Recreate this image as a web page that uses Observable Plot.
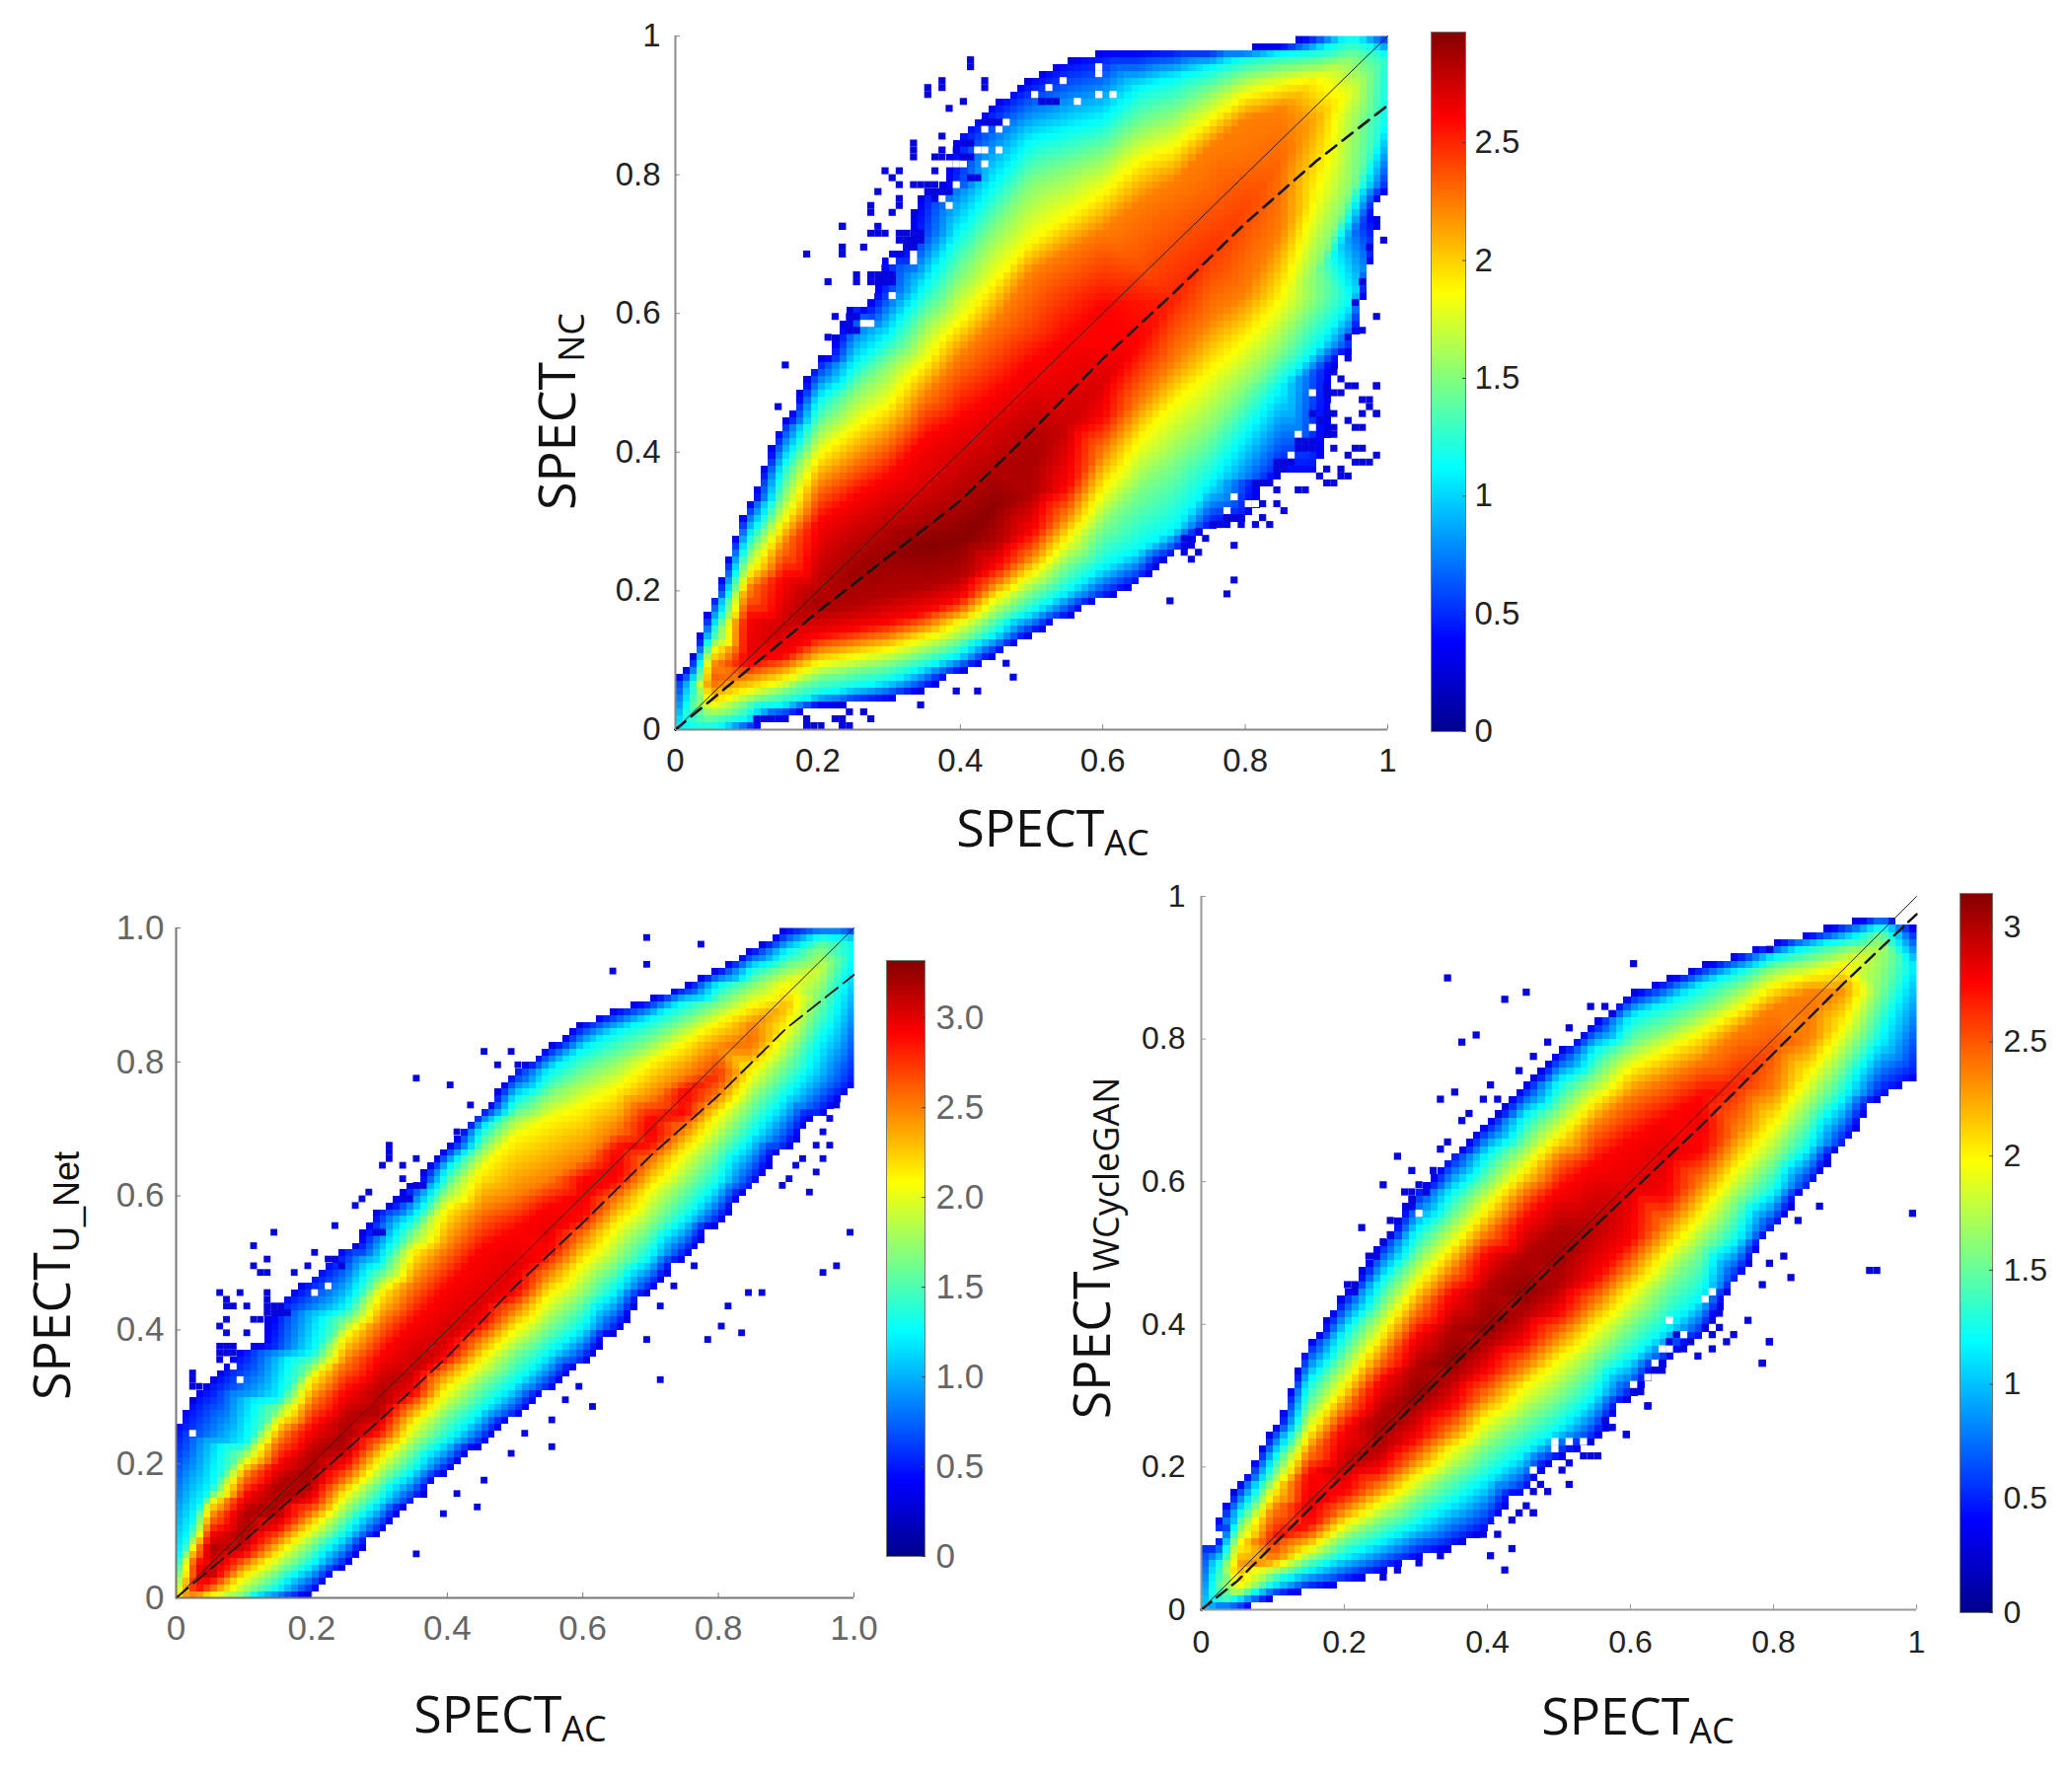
<!DOCTYPE html>
<html><head><meta charset="utf-8">
<script src="https://cdn.jsdelivr.net/npm/d3@7"></script>
<script src="https://cdn.jsdelivr.net/npm/@observablehq/plot@0.6"></script>
<style>
html,body{margin:0;padding:0;background:#fff}
#root{position:relative;width:2100px;height:1798px;overflow:hidden;background:#fff}
#root svg{position:absolute;overflow:visible;background:transparent}
.lab{position:absolute;font-family:"Open Sans",sans-serif;font-size:52px;color:#111;white-space:nowrap;line-height:1}
.lab sub{font-size:36px;vertical-align:baseline;position:relative;top:9px}
.arial sub{font-family:"Liberation Sans",sans-serif}
</style></head><body><div id="root"></div>
<script>
const _ = null;
// Density reads: for each column x, the y where the density crosses each jet colour.
// Order inside rows: outer edge, cyan, green, yellow, orange, red, dark red.
const levelStops = [.13,.375,.5,.625,.75,.875,.95];

// --- SPECT_NC panel
const ncX = [0,.02,.05,.1,.15,.2,.25,.3,.35,.4,.45,.5,.55,.6,.65,.7,.75,.8,.85,.9,.95,1];
const ncRidge = [0,.03,.07,.11,.15,.19,.225,.25,.265,.275,.325,.38,.44,.5,.555,.62,.69,.75,.82,.88,.92,.97];
const ncPeak = [1.0,1.3,2.35,2.65,2.75,2.85,2.88,2.9,2.95,2.95,2.92,2.85,2.75,2.7,2.6,2.5,2.45,2.4,2.3,2.1,1.75,1.2];
const ncLow = [
 [_,_,_,_,_,_,_],[_,0,_,_,_,_,_],[_,0,.02,.035,.06,_,_],[0,.015,.04,.055,.075,.095,_],
 [.02,.035,.055,.07,.09,.105,_],[.035,.05,.075,.095,.115,.135,.17],[.04,.06,.085,.105,.125,.145,.18],
 [.045,.07,.095,.115,.135,.155,.195],[.06,.09,.11,.132,.15,.17,.205],[.085,.108,.13,.155,.17,.19,.22],
 [.11,.138,.165,.19,.21,.235,.27],[.14,.17,.2,.225,.25,.285,.34],[.165,.2,.24,.275,.31,.35,_],
 [.19,.235,.295,.345,.4,.45,_],[.215,.26,.345,.415,.47,_,_],[.255,.29,.385,.47,.53,_,_],
 [.295,.355,.43,.515,.59,_,_],[.31,.425,.49,.56,.63,_,_],[.37,.495,.545,.62,.72,_,_],
 [.375,.55,.66,.77,_,_,_],[.55,.62,.78,_,_,_,_],[.78,.88,_,_,_,_,_]];
const ncHigh = [
 [.07,_,_,_,_,_,_],[.09,.06,_,_,_,_,_],[.18,.14,.125,.11,.09,_,_],[.32,.275,.25,.225,.2,.16,_],
 [.44,.38,.335,.30,.265,.22,_],[.53,.475,.435,.395,.35,.30,.2],[.61,.525,.485,.435,.385,.335,.26],
 [.686,.57,.53,.47,.42,.365,.29],[.77,.64,.59,.53,.48,.42,.31],[.855,.72,.655,.59,.54,.45,.335],
 [.9,.79,.725,.65,.59,.485,.375],[.935,.85,.79,.705,.66,.53,.42],[.96,.865,.81,.74,.69,.565,_],
 [.975,.88,.83,.775,.72,.61,_],[.975,.925,.87,.82,.76,_,_],[.98,.94,.89,.84,.79,_,_],
 [.98,.955,.92,.88,.84,_,_],[.98,.97,.945,.915,.88,_,_],[.985,.975,.955,.93,.895,_,_],
 [1,.98,.96,.94,_,_,_],[_,1,.97,_,_,_,_],[1,_,_,_,_,_,_]];
const ncStray = [[.42,.96],[.36,.92],[.38,.93],[.44,.93],[.417,.961],[.377,.931],[.357,.922],[.437,.931],[.407,.909],[.388,.9],[.338,.85],[.338,.84],[.338,.83],[.378,.854],[.378,.84],[.378,.825],[.368,.83],[.298,.81],[.318,.81],[.308,.8],[.318,.79],[.288,.78],[.278,.76],[.278,.75],[.317,.77],[.317,.76],[.31,.75],[.237,.73],[.288,.73],[.278,.72],[.288,.72],[.3,.72],[.237,.7],[.237,.69],[.267,.7],[.22,.65],[.257,.66],[.257,.65],[.228,.6],[.22,.57],[.34,.79],[.35,.79],[.36,.79],[.37,.79],[.368,.81],[.368,.77],[.405,.85],[.415,.85],[.396,.838],[.19,.69],[.24,.73],[.16,.53],[.15,.47],
 [.315,.72],[.325,.72],[.335,.72],[.345,.72],[.315,.71],[.325,.71],[.335,.71],[.345,.71],[.28,.66],[.29,.66],[.3,.66],[.31,.66],[.28,.65],[.29,.65],[.3,.65],[.31,.65],[.245,.6],[.255,.6],[.245,.59],[.245,.58],[.255,.58],[.435,.88],[.445,.88],[.455,.88],[.515,.91],[.525,.91],[.535,.91],[.36,.78],[.37,.78],[.38,.78],[.39,.78],[.42,.8],[.43,.8],[.41,.83],[.42,.83],[.33,.7],[.34,.7],
 [.947,.57],[.947,.54],[.938,.51],[.986,.5],[.956,.5],[.944,.5],[.912,.487],[.92,.487],[.93,.487],[.94,.487],[.963,.48],[.977,.48],[.977,.47],[.967,.46],[.987,.46],[.917,.46],[.926,.46],[.947,.45],[.926,.44],[.926,.43],[.926,.41],[.956,.435],[.967,.435],[.947,.40],[.957,.41],[.967,.41],[.987,.40],[.956,.39],[.967,.39],[.977,.39],[.917,.38],[.935,.38],[.947,.37],[.938,.37],[.908,.37],[.917,.36],[.926,.36],[.882,.35],[.875,.35],[.848,.35],[.827,.33],[.848,.33],[.858,.32],[.797,.30],[.817,.30],[.838,.30],[.827,.31],[.737,.29],[.718,.28],[.749,.28],[.728,.27],[.786,.27],[.718,.26],[.737,.26],[.727,.25],[.786,.22],[.777,.2],[.7,.19],[.48,.08],[.47,.1],[.43,.06],[.395,.06],[.35,.04],[.99,.5],[.99,.46],[.99,.6],[.97,.65],[.98,.7],[.96,.62],[1,.71],[.97,.58],
 [.88,.42],[.89,.42],[.9,.42],[.88,.41],[.89,.41],[.9,.41],[.85,.39],[.86,.39],[.87,.39],[.85,.38],[.86,.38],[.82,.36],[.83,.36],[.84,.36],[.78,.31],[.79,.31],[.8,.31],[.76,.3],[.77,.3],[.78,.3],[.91,.45],[.9,.46],[.92,.5],[.93,.52],
 [.19,.01],[.2,.01],[.21,.01],[.19,.02],[.225,.02],[.235,.02],[.24,.01],[.25,.01],[.155,.02],[.14,.02],[.27,.03],[.28,.02],[.25,.03],[.115,.02],[.125,.02]];
const ncHole = [[.437,.87],[.457,.87],[.468,.88],[.43,.84],[.44,.84],[.457,.84],[.437,.82],[.39,.82],[.40,.82],[.41,.82],[.378,.81],[.397,.79],[.378,.77],[.388,.76],[.334,.69],[.338,.68],[.308,.68],[.288,.695],[.288,.68],[.288,.67],[.297,.705],[.278,.63],[.308,.63],[.27,.59],[.28,.59],[.506,.92],[.53,.93],[.546,.94],[.569,.91],[.592,.92],[.60,.92],[.617,.92],[.594,.95],[.60,.96],
 [.898,.49],[.926,.47],[.898,.44],[.876,.43],[.937,.43],[.868,.40],[.848,.36],[.786,.34],[.806,.33],[.82,.33],[.777,.32]];
const ncDashX = [0,.1,.2,.3,.4,.5,.6,.7,.8,.9,1];
const ncDashY = [0,.085,.17,.25,.33,.43,.535,.63,.73,.82,.9];

// --- SPECT_U_Net panel
const unX = [0,.03,.05,.1,.15,.2,.25,.3,.35,.4,.45,.5,.55,.6,.65,.7,.75,.8,.85,.9,.95,1];
const unRidge = [0,.03,.05,.1,.145,.19,.24,.29,.34,.39,.44,.49,.545,.6,.645,.695,.74,.78,.835,.885,.94,.98];
const unPeak = [2.1,2.9,3.1,3.2,3.2,3.2,3.18,3.15,3.1,3.05,3.02,3.0,2.98,2.95,2.95,2.95,2.9,2.75,2.55,2.3,1.9,1.25];
const unLow = [
 [_,_,_,_,_,_,_],[_,_,_,0,.005,.015,_],[_,_,_,_,.01,.025,.035],[_,0,.005,.03,.05,.065,.08],
 [_,.015,.04,.065,.085,.105,.125],[.01,.05,.08,.105,.125,.145,.17],[.05,.095,.125,.155,.175,.2,.22],
 [.1,.145,.175,.205,.23,.25,.275],[.145,.19,.225,.26,.285,.305,_],[.19,.235,.275,.31,.34,.36,_],
 [.23,.28,.32,.355,.385,.41,_],[.27,.32,.365,.40,.43,.455,_],[.31,.365,.405,.45,.485,.515,_],
 [.35,.405,.45,.50,.54,.57,_],[.40,.46,.50,.555,.595,.625,_],[.46,.51,.555,.61,.65,.68,_],
 [.51,.565,.615,.665,.70,.725,_],[.56,.62,.675,.72,.75,_,_],[.615,.69,.74,.785,.82,_,_],
 [.67,.75,.80,.85,_,_,_],[.72,.83,.90,_,_,_,_],[.77,.96,_,_,_,_,_]];
const unHigh = [
 [.25,.05,.02,_,_,_,_],[.3,.13,.1,.085,.07,.05,_],[.317,.165,.15,.14,.12,.095,.075],[.37,.23,.215,.2,.18,.15,.125],
 [.435,.298,.281,.265,.237,.2,.17],[.475,.366,.347,.329,.295,.254,.215],[.52,.433,.412,.392,.353,.307,.265],
 [.578,.5,.477,.455,.411,.36,.31],[.617,.567,.542,.519,.469,.413,_],[.67,.64,.61,.583,.522,.465,_],
 [.725,.70,.67,.64,.58,.52,_],[.785,.745,.72,.69,.60,.55,_],[.82,.785,.75,.715,.625,.585,_],
 [.855,.82,.78,.735,.655,.625,_],[.875,.845,.805,.76,.70,.67,_],[.89,.865,.83,.80,.745,.715,_],
 [.91,.89,.86,.83,.78,.755,_],[.935,.915,.885,.86,.82,_,_],[.965,.94,.915,.885,.855,_,_],
 [.995,.965,.94,.915,_,_,_],[1,.99,.97,_,_,_,_],[1,_,_,_,_,_,_]];
const unStray = [[.7,.99],[.78,.98],[.7,.95],[.65,.94],[1,.55],[.975,.5],[.955,.49],[.72,.33],[.87,.46],[.845,.455],[.82,.44],[.84,.4],[.81,.41],[.79,.39],[.7,.385],[.62,.29],[.555,.225],[.355,.07],[.395,.13],[.45,.14],
 [.32,.68],[.32,.67],[.32,.66],[.308,.648],[.337,.648],[.358,.657],[.337,.63],[.287,.61],[.277,.6],[.27,.588],[.238,.558],[.15,.547],[.118,.527],[.139,.508],[.118,.497],[.129,.487],[.139,.487],[.209,.519],[.198,.497],[.177,.487],[.068,.457],[.1,.457],[.078,.447],[.088,.437],[.078,.437],[.108,.437],[.078,.417],[.068,.41],[.12,.417],[.129,.417],[.078,.396],[.108,.396],[.029,.34],[.029,.33],[.029,.32],[.039,.315],[.139,.46],[.139,.445],[.355,.78],[.405,.77],[.455,.82],[.495,.82],[.48,.8],[.51,.8],[.42,.7],[.44,.74],
 [.14,.44],[.15,.44],[.16,.44],[.14,.43],[.15,.43],[.16,.43],[.17,.43],[.07,.38],[.08,.38],[.09,.38],[.07,.37],[.08,.37],[.09,.37],[.07,.36],[.3,.55],[.31,.55],[.23,.51],[.24,.51],[.25,.5],[.34,.6],[.35,.6],[.36,.62],[.37,.62],
 [.9,.62],[.91,.63],[.92,.65],[.93,.66],[.95,.68],[.96,.7],[.97,.72],[.98,.74],[.96,.66],[.95,.64],[.94,.61],[.97,.68],[.77,.5],[.74,.47],[.72,.44],[.6,.32],[.58,.3],[.56,.27],[.52,.25],[.5,.22],[.46,.18],[.42,.16]];
const unHole = [[.23,.47],[.205,.455],[.09,.345],[.03,.25],[.095,.33]];
const unDashX = [0,.1,.2,.3,.4,.5,.6,.7,.8,.9,1];
const unDashY = [0,.085,.175,.265,.36,.465,.56,.66,.75,.85,.93];

// --- SPECT_WCycleGAN panel
const wcX = [0,.02,.05,.1,.15,.2,.25,.3,.35,.4,.45,.5,.55,.6,.65,.7,.75,.8,.85,.9,.95,1];
const wcRidge = [0,.03,.06,.1,.145,.2,.25,.3,.35,.395,.44,.49,.54,.59,.635,.68,.74,.79,.84,.87,.93,.9];
const wcPeak = [.9,1.4,2.3,2.7,2.85,2.95,3.05,3.1,3.12,3.1,3.1,3.05,2.98,2.85,2.85,2.8,2.65,2.5,2.4,2.3,1.7,1.1];
const wcLow = [
 [_,_,_,_,_,_,_],[0,.01,_,_,_,_,_],[0,.015,.02,.03,_,_,_],[.02,.035,.05,.06,.07,_,_],
 [.03,.055,.07,.085,.1,.12,_],[.04,.075,.1,.12,.14,.165,_],[.055,.095,.125,.15,.172,.197,.225],
 [.075,.12,.155,.185,.21,.24,.28],[.09,.15,.19,.225,.25,.285,.325],[.115,.185,.23,.27,.30,.335,.375],
 [.165,.22,.265,.31,.34,.375,.415],[.215,.255,.30,.35,.385,.415,.455],[.24,.30,.35,.395,.43,.465,_],
 [.3,.352,.40,.445,.48,.52,_],[.35,.395,.455,.50,.54,.58,_],[.385,.44,.51,.555,.60,.645,_],
 [.465,.52,.575,.62,.67,_,_],[.535,.585,.63,.68,.73,_,_],[.595,.65,.70,.75,.80,_,_],
 [.655,.72,.77,.82,_,_,_],[.72,.8,.87,_,_,_,_],[.75,_,_,_,_,_,_]];
const wcHigh = [
 [.09,_,_,_,_,_,_],[.09,.06,_,_,_,_,_],[.17,.13,.11,.09,_,_,_],[.25,.21,.185,.165,.14,_,_],
 [.37,.32,.28,.25,.22,.19,_],[.44,.39,.35,.315,.285,.255,_],[.51,.46,.42,.385,.35,.32,.275],
 [.585,.53,.49,.455,.42,.385,.34],[.635,.585,.545,.51,.475,.442,.395],[.68,.64,.60,.565,.53,.50,.45],
 [.73,.69,.65,.615,.585,.545,.495],[.78,.74,.70,.665,.635,.59,.535],[.82,.785,.745,.715,.68,.625,_],
 [.86,.83,.79,.76,.72,.66,_],[.88,.85,.815,.785,.745,.69,_],[.90,.875,.84,.81,.77,.72,_],
 [.915,.895,.87,.84,.81,_,_],[.93,.915,.90,.875,.845,_,_],[.945,.93,.91,.89,.865,_,_],
 [.96,.94,.925,.905,_,_,_],[.97,.96,.945,_,_,_,_],[.95,_,_,_,_,_,_]];
const wcStray = [[.35,.89],[.43,.86],[.46,.87],[.61,.91],[.37,.8],[.39,.81],[.8,.93],[1,.56],[.945,.48],[.94,.48],[.87,.57],[.83,.47],[.8,.38],[.79,.35],[.77,.41],[.63,.29],[.6,.25],[.58,.26],[.43,.06],[.41,.08],[.44,.09],[.47,.14],[.28,.64],[.26,.6],[.23,.54],[.34,.72],[.36,.73],[.41,.74],[.84,.55],[.815,.5],
 [.797,.49],[.788,.46],[.728,.40],[.748,.39],[.718,.39],[.737,.38],[.795,.38],[.718,.37],[.698,.36],[.788,.35],[.628,.29],[.567,.27],[.576,.26],[.597,.25],[.517,.18],[.488,.17],[.458,.15],[.468,.14],[.3,.62],[.31,.6],[.27,.55],[.3,.58],
 [.21,.46],[.22,.46],[.22,.45],[.24,.5],[.25,.5],[.26,.52],[.27,.53],[.29,.59],[.3,.59],[.3,.57],[.32,.59],[.33,.62],[.34,.65],[.35,.66],[.37,.69],[.38,.7],[.4,.72],[.42,.72],[.45,.76],[.47,.78],[.49,.8],[.52,.82],[.55,.85],[.57,.85],[.58,.84],
 [.72,.41],[.73,.42],[.71,.4],[.69,.38],[.68,.37],[.66,.38],[.67,.39],[.64,.34],[.65,.34],[.62,.31],[.61,.31],[.55,.22],[.56,.22],[.54,.22],[.52,.21],[.51,.2],[.48,.18],[.47,.17],[.45,.14],[.44,.13],[.42,.11],[.4,.11],[.37,.1],[.34,.08],[.31,.07],[.28,.06],[.26,.05]];
const wcHole = [[.718,.45],[.707,.44],[.658,.41],[.678,.39],[.653,.37],[.648,.37],[.638,.35],[.628,.33],[.606,.32],[.5,.236],[.5,.227],[.537,.236],[.514,.232],[.468,.2],[.498,.19],[.42,.13],[.43,.125],[.31,.56]];
const wcDashX = [0,.05,.1,.2,.3,.4,.5,.6,.7,.8,.9,1];
const wcDashY = [0,.04,.09,.19,.29,.39,.49,.585,.68,.78,.88,.975];

const axisTicks = [0,.2,.4,.6,.8,1];
const jetColors = ["#00008f","#0000ff","#00ffff","#ffff00","#ff0000","#800000"];
const jetStops = [0,.125,.375,.625,.875,1];
const jet = d3.scaleLinear().domain(jetStops).range(jetColors).clamp(true);
const jetCut = t => t < .09 ? "#fff" : jet(t);
const root = document.getElementById("root");

function points(X, ridge, peak, low, high, max) {
  const pts = [];
  X.forEach((x, i) => {
    pts.push({x, y: ridge[i], v: peak[i]});
    levelStops.forEach((s, k) => {
      if (low[i][k] != null) pts.push({x, y: low[i][k], v: s * max});
      if (high[i][k] != null) pts.push({x, y: high[i][k], v: s * max});
    });
    if (low[i][0] != null) pts.push({x, y: low[i][0] - .012, v: 0});
    if (high[i][0] != null) pts.push({x, y: high[i][0] + .012, v: 0});
  });
  for (const [x, y] of [[-.03,-.03],[1.03,-.03],[-.03,1.03],[1.03,1.03]]) pts.push({x, y, v: 0});
  return pts;
}
const cellX1 = d => Math.floor(d[0] * 100 - 1e-6) / 100;
const cellY1 = d => Math.floor(d[1] * 100 - 1e-6) / 100;

function panel(o) {
  const mL = 90, mT = 30, mR = 30, mB = 70;
  const W = o.x1 - o.x0, H = o.y0 - o.y1;
  const dash = o.dashX.map((x, i) => ({x, y: o.dashY[i]}));
  const cell = (data, fill) => Plot.rect(data, {
    x1: cellX1, x2: d => cellX1(d) + .01, y1: cellY1, y2: d => cellY1(d) + .01, fill, inset: 0
  });
  const svg = Plot.plot({
    width: W + mL + mR, height: H + mT + mB,
    marginLeft: mL, marginTop: mT, marginRight: mR, marginBottom: mB,
    style: {background: "transparent", fontFamily: "Liberation Sans, sans-serif"},
    x: {domain: [0, 1]}, y: {domain: [0, 1]},
    color: {type: "linear", domain: [0, o.max], interpolate: jetCut},
    marks: [
      Plot.raster(points(o.X, o.ridge, o.peak, o.low, o.high, o.max), {
        x: "x", y: "y", fill: "v", interpolate: "barycentric",
        x1: 0, x2: 1, y1: 0, y2: 1, width: 100, height: 100, imageRendering: "pixelated"
      }),
      cell(o.hole, () => "#ffffff"),
      cell(o.stray, () => "#0606dc"),
      Plot.ruleX([0], {stroke: o.axisColor, strokeWidth: 2}),
      Plot.ruleY([0], {stroke: o.axisColor, strokeWidth: 2}),
      Plot.line([{x: 0, y: 0}, {x: 1, y: 1}], {x: "x", y: "y", stroke: "#222", strokeWidth: 1}),
      Plot.line(dash, {x: "x", y: "y", stroke: "#111", strokeWidth: o.dashWidth, strokeDasharray: o.dashArray}),
      Plot.axisX(axisTicks, {tickFormat: o.fmt, tickSize: -5, tickPadding: 5 + o.xPad, stroke: o.axisColor, fill: o.textColor, fontSize: o.fs, label: null}),
      Plot.axisY(axisTicks, {tickFormat: o.fmt, tickSize: -5, tickPadding: 5 + o.yPad, stroke: o.axisColor, fill: o.textColor, fontSize: o.fs, label: null})
    ]
  });
  svg.style.left = (o.x0 - mL) + "px";
  svg.style.top = (o.y1 - mT) + "px";
  root.appendChild(svg);

  // colour bar
  const b = o.bar, steps = d3.range(0, o.max, o.max / 256);
  const bar = Plot.plot({
    width: b.x1 - b.x0 + 100, height: b.y0 - b.y1 + 20,
    marginLeft: 0, marginRight: 100, marginTop: 10, marginBottom: 10,
    style: {background: "transparent", fontFamily: "Liberation Sans, sans-serif"},
    x: {domain: [0, 1], axis: null}, y: {domain: [0, o.max]},
    color: {type: "linear", domain: [0, o.max], interpolate: jet},
    marks: [
      Plot.rect(steps, {x1: 0, x2: 1, y1: d => d, y2: d => d + o.max / 250, fill: d => d, shapeRendering: "crispEdges"}),
      Plot.frame({stroke: "#777", strokeWidth: 1}),
      Plot.axisY(b.ticks, {anchor: "right", tickFormat: b.fmt, tickSize: -4, tickPadding: 4 + b.pad, stroke: "#444", fill: o.textColor, fontSize: o.fs, label: null})
    ]
  });
  bar.style.left = b.x0 + "px";
  bar.style.top = (b.y1 - 10) + "px";
  root.appendChild(bar);
}

function label(html, cx, cy, rotate, cls) {
  const d = document.createElement("div");
  d.className = "lab " + (cls || "");
  d.innerHTML = html;
  d.style.left = cx + "px";
  d.style.top = cy + "px";
  d.style.transform = `translate(-50%,-50%)${rotate ? " rotate(-90deg)" : ""}`;
  root.appendChild(d);
}

panel({x0: 684, x1: 1406, y0: 739, y1: 36, X: ncX, ridge: ncRidge, peak: ncPeak, low: ncLow, high: ncHigh, stray: ncStray, hole: ncHole,
  dashX: ncDashX, dashY: ncDashY, max: 2.97, axisColor: "#888", textColor: "#222", fs: 33, xPad: 19, yPad: 15,
  dashWidth: 2.6, dashArray: "13 8", fmt: d => String(d),
  bar: {x0: 1450, x1: 1485, y0: 741, y1: 32, ticks: [0,.5,1,1.5,2,2.5], fmt: d => String(d), pad: 9}});
panel({x0: 178, x1: 865, y0: 1619, y1: 940, X: unX, ridge: unRidge, peak: unPeak, low: unLow, high: unHigh, stray: unStray, hole: unHole,
  dashX: unDashX, dashY: unDashY, max: 3.32, axisColor: "#777", textColor: "#666", fs: 35, xPad: 18, yPad: 12,
  dashWidth: 1.8, dashArray: "16 7", fmt: d => d === 0 ? "0" : d.toFixed(1),
  bar: {x0: 898, x1: 937, y0: 1577, y1: 973, ticks: [0,.5,1,1.5,2,2.5,3], fmt: d => d === 0 ? "0" : d.toFixed(1), pad: 11}});
panel({x0: 1217, x1: 1942, y0: 1631, y1: 908, X: wcX, ridge: wcRidge, peak: wcPeak, low: wcLow, high: wcHigh, stray: wcStray, hole: wcHole,
  dashX: wcDashX, dashY: wcDashY, max: 3.15, axisColor: "#999", textColor: "#222", fs: 32, xPad: 21, yPad: 16,
  dashWidth: 2.4, dashArray: "13 7", fmt: d => String(d),
  bar: {x0: 1986, x1: 2019, y0: 1634, y1: 905, ticks: [0,.5,1,1.5,2,2.5,3], fmt: d => String(d), pad: 11}});

label("SPECT<sub>AC</sub>", 1067, 838, false);
label("SPECT<sub>NC</sub>", 563, 417, true);
label("SPECT<sub>AC</sub>", 517, 1736, false);
label("SPECT<sub>U_Net</sub>", 51, 1293, true, "arial");
label("SPECT<sub>AC</sub>", 1660, 1738, false);
label("SPECT<sub>WCycleGAN</sub>", 1105, 1265, true);
</script></body></html>
